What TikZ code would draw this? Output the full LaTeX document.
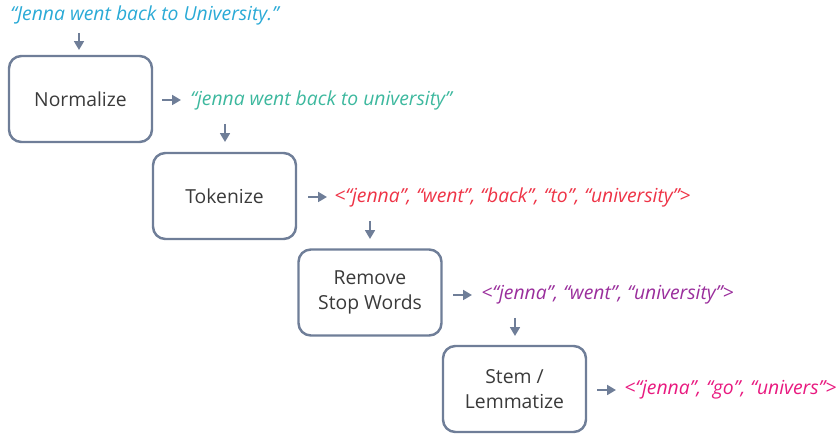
\documentclass[tikz,border=0pt]{standalone}
\usepackage{fontspec}
\setmainfont{Open Sans}
\usetikzlibrary{arrows.meta}
\definecolor{boxc}{HTML}{6F7E98}
\definecolor{txt}{HTML}{3A3A3A}
\definecolor{cA}{HTML}{2AAAD6}
\definecolor{cB}{HTML}{3DB89E}
\definecolor{cC}{HTML}{EE3346}
\definecolor{cD}{HTML}{9A2E9C}
\definecolor{cE}{HTML}{E8197F}
\begin{document}
\begin{tikzpicture}[x=0.02cm,y=-0.02cm,
  stepbox/.style={draw=boxc,line width=1.4pt,rounded corners=7pt,minimum width=2.86cm,minimum height=1.72cm,align=center,text=txt,font=\fontsize{11}{14.5}\selectfont},
  outtext/.style={anchor=west,inner sep=0pt,font=\fontsize{11}{13}\selectfont\itshape},
  arr/.style={-{Triangle[length=5pt,width=5.5pt]},draw=boxc,line width=1.4pt}]
\useasboundingbox (0,0) rectangle (836,435);
\node[outtext,text=cA] (t0) at (10,15) {“Jenna went back to University.”};
\node[stepbox] (b1) at (80.5,99) {Normalize};
\node[stepbox] (b2) at (224.5,196) {Tokenize};
\node[stepbox] (b3) at (370,292.5) {\raisebox{-3pt}{\parbox{2.5cm}{\centering Remove\\Stop Words}}};
\node[stepbox] (b4) at (514.5,389) {\raisebox{-2pt}{\parbox{2.5cm}{\centering Stem /\\Lemmatize}}};
\coordinate (a0s) at (79,33); \coordinate (a0e) at (79,50);
\draw[arr] (a0s) -- (a0e);
\coordinate (r1s) at (162,100); \coordinate (r1e) at (181,100);
\draw[arr] (r1s) -- (r1e);
\node[outtext,text=cB] (t1) at (190,100) {“jenna went back to university”};
\coordinate (d1s) at (225,124); \coordinate (d1e) at (225,142);
\draw[arr] (d1s) -- (d1e);
\coordinate (r2s) at (308,197); \coordinate (r2e) at (327,197);
\draw[arr] (r2s) -- (r2e);
\node[outtext,text=cC] (t2) at (334,197) {<“jenna”, “went”, “back”, “to”, “university”>};
\coordinate (d2s) at (370,221); \coordinate (d2e) at (370,239);
\draw[arr] (d2s) -- (d2e);
\coordinate (r3s) at (453,295); \coordinate (r3e) at (472,295);
\draw[arr] (r3s) -- (r3e);
\node[outtext,text=cD] (t3) at (481,295) {<“jenna”, “went”, “university”>};
\coordinate (d3s) at (515,318); \coordinate (d3e) at (515,336);
\draw[arr] (d3s) -- (d3e);
\coordinate (r4s) at (597,390); \coordinate (r4e) at (616,390);
\draw[arr] (r4s) -- (r4e);
\node[outtext,text=cE] (t4) at (624,390) {<“jenna”, “go”, “univers”>};
\end{tikzpicture}
\end{document}
